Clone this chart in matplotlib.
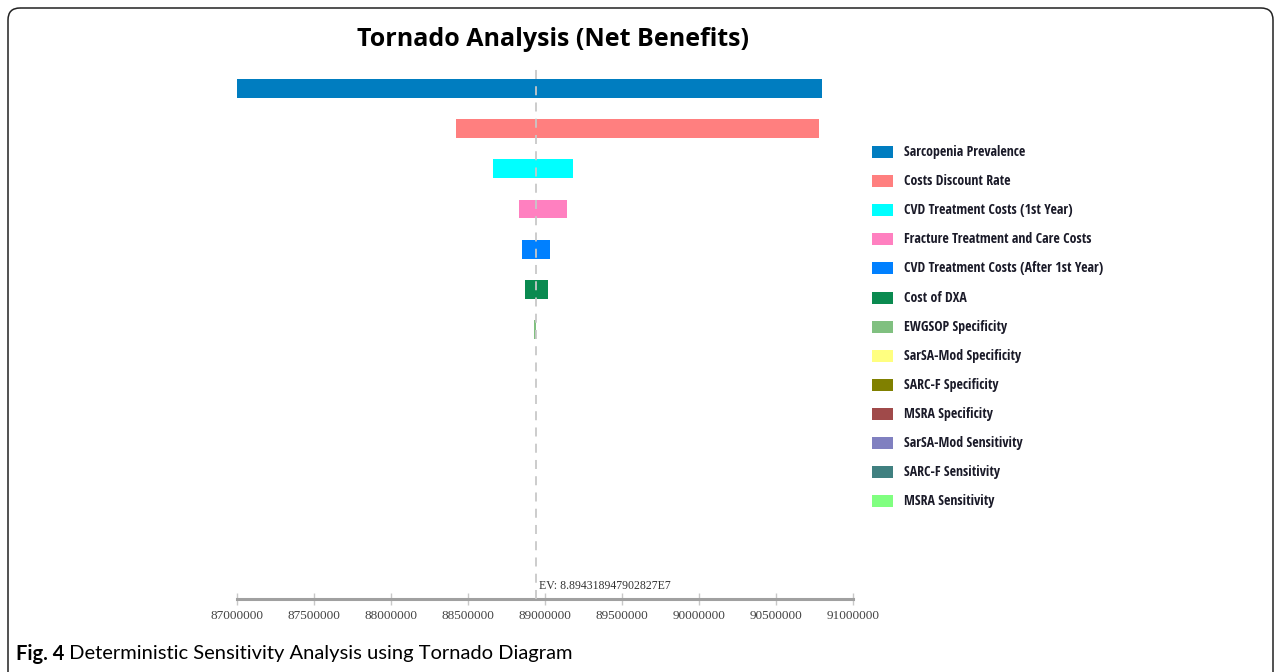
import matplotlib.pyplot as plt
from matplotlib.patches import FancyBboxPatch, Rectangle
from matplotlib.ticker import FixedLocator, FuncFormatter

# parameters of the tornado diagram (top to bottom)
params = ['Sarcopenia Prevalence', 'Costs Discount Rate', 'CVD Treatment Costs (1st Year)',
          'Fracture Treatment and Care Costs', 'CVD Treatment Costs (After 1st Year)', 'Cost of DXA',
          'EWGSOP Specificity', 'SarSA-Mod Specificity', 'SARC-F Specificity', 'MSRA Specificity',
          'SarSA-Mod Sensitivity', 'SARC-F Sensitivity', 'MSRA Sensitivity']
# net benefit range for each parameter
low = [87000000, 88420000, 88660000, 88830000, 88850000, 88870000, 88928000,
       88943189, 88943189, 88943189, 88943189, 88943189, 88943189]
high = [90800000, 90780000, 89180000, 89140000, 89030000, 89020000, 88942000,
        88943189, 88943189, 88943189, 88943189, 88943189, 88943189]
colors = ['#007dc0', '#ff7f7f', '#00ffff', '#ff80c0', '#0080ff', '#0a8a50', '#80c080',
          '#ffff80', '#808000', '#a04a4a', '#8080c0', '#408080', '#80ff80']
ev = 88943189.47902827
ev_label = 'EV: 8.894318947902827E7'
ticks = [87000000, 87500000, 88000000, 88500000, 89000000, 89500000, 90000000, 90500000, 91000000]

W, H = 1281, 672
fig = plt.figure(figsize=(W / 100, H / 100), dpi=100)

# pixel-coordinate overlay for frame, legend and caption
bg = fig.add_axes([0, 0, 1, 1])
bg.set_xlim(0, W)
bg.set_ylim(H, 0)
bg.axis('off')
bg.add_patch(FancyBboxPatch((8, 8), W - 16, H + 40, boxstyle='round,pad=0,rounding_size=12',
                            fc='none', ec='#222222', lw=1.1))

ax = fig.add_axes([237 / W, 73 / H, 616 / W, 531 / H])
ypos = list(range(len(params)))
widths = [h - l for l, h in zip(low, high)]
ax.barh(ypos, widths, left=low, height=0.47, color=colors)
ax.axvline(ev, color='#c8c8c8', ls=(0, (5, 4)), lw=1.3, zorder=3)
ax.set_xlim(ticks[0], ticks[-1])
ax.set_ylim(12.68, -0.5)

for s in ['top', 'left', 'right']:
    ax.spines[s].set_visible(False)
ax.spines['bottom'].set_color('#a0a0a0')
ax.spines['bottom'].set_linewidth(2.2)
ax.set_yticks([])
ax.xaxis.set_major_locator(FixedLocator(ticks))
ax.xaxis.set_major_formatter(FuncFormatter(lambda v, p: '%d' % v))
ax.tick_params(axis='x', direction='inout', length=8, width=1, color='#c8c8c8',
               pad=4, labelsize=9.5, labelcolor='#444444')
for lab in ax.get_xticklabels():
    lab.set_family(['Liberation Serif', 'DejaVu Serif'])

ax.annotate(ev_label, xy=(ev, 0), xycoords=('data', 'axes fraction'), xytext=(2, 5),
            textcoords='offset points', fontsize=8.5, color='#333333',
            family=['Liberation Serif', 'DejaVu Serif'], va='bottom', ha='left')

fig.text(553 / W, 1 - 40 / H, 'Tornado Analysis (Net Benefits)', ha='center', va='center',
         fontsize=18, fontweight='bold', family=['Open Sans', 'DejaVu Sans'])

# legend
for i, (name, c) in enumerate(zip(params, colors)):
    yy = 152 + 29.1 * i
    bg.add_patch(Rectangle((872, yy - 6), 21, 12, fc=c, ec='none'))
    bg.text(904, yy, name, ha='left', va='center', fontsize=10, fontweight='bold',
            fontstretch='condensed', color='#1a1a28',
            family=['Open Sans Condensed', 'Open Sans', 'DejaVu Sans'])

cap = bg.text(16, 654, 'Fig. 4', ha='left', va='center', fontsize=14.5,
              fontweight='bold', family=['Lato', 'DejaVu Sans'])
bg.annotate(' Deterministic Sensitivity Analysis using Tornado Diagram', xy=(1, 0.5),
            xycoords=cap, ha='left', va='center', fontsize=14.5,
            family=['Lato', 'DejaVu Sans'])

fig.savefig('out.png', dpi=100)
